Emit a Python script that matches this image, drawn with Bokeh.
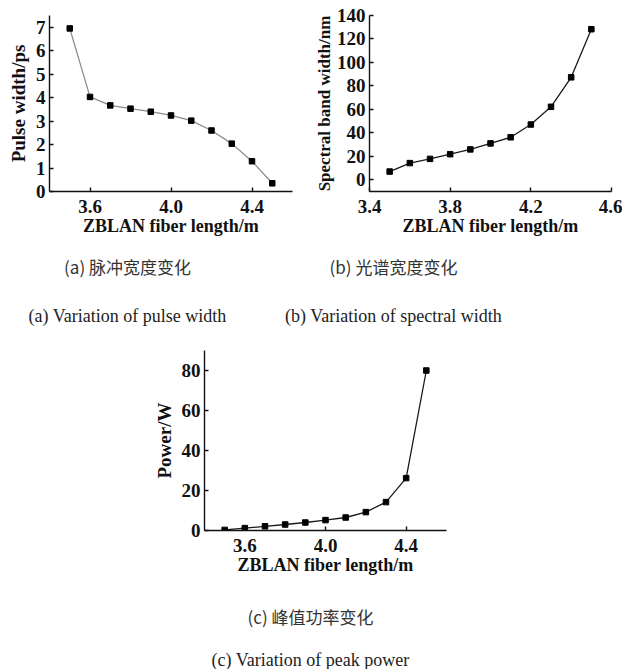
from bokeh.plotting import figure
from bokeh.models import Range1d, FixedTicker, Title, Spacer, PrintfTickFormatter
from bokeh.layouts import column, row
from bokeh.embed import file_html
from bokeh.resources import INLINE

# ---- data ----
fiber_length = [3.5, 3.6, 3.7, 3.8, 3.9, 4.0, 4.1, 4.2, 4.3, 4.4, 4.5]
pulse_width = [6.95, 4.03, 3.67, 3.53, 3.40, 3.24, 3.02, 2.60, 2.04, 1.29, 0.35]
spectral_width = [7.0, 14.2, 17.8, 21.8, 25.9, 31.0, 36.2, 47.1, 62.2, 87.3, 128.3]
peak_power = [0.3, 1.2, 2.1, 3.0, 4.0, 5.2, 6.5, 9.2, 14.2, 26.2, 80.0]

ticks_a_x = [3.6, 4.0, 4.4]
ticks_a_y = [0, 1, 2, 3, 4, 5, 6, 7]
ticks_b_x = [3.4, 3.8, 4.2, 4.6]
ticks_b_y = [0, 20, 40, 60, 80, 100, 120, 140]
ticks_c_x = [3.6, 4.0, 4.4]
ticks_c_y = [0, 20, 40, 60, 80]

xlabel = "ZBLAN fiber length/m"
ylabel_a = "Pulse width/ps"
ylabel_b = "Spectral band width/nm"
ylabel_c = "Power/W"
cap_a = ["(a) 脉冲宽度变化", "(a) Variation of pulse width"]
cap_b = ["(b) 光谱宽度变化", "(b) Variation of spectral width"]
cap_c = ["(c) 峰值功率变化", "(c) Variation of peak power"]

SERIF = "Liberation Serif"
CJK = "Noto Sans CJK SC"
INK = "#111111"


def make_fig(x, y, xr, yr, xt, yt, ylab, ylab_size, ylab_standoff, line_color,
             width, height, bl, br, bt, bb):
    p = figure(width=width, height=height, x_range=Range1d(*xr), y_range=Range1d(*yr),
               output_backend="svg", toolbar_location=None,
               min_border_left=bl, min_border_right=br, min_border_top=bt,
               min_border_bottom=bb)
    p.outline_line_color = None
    p.grid.visible = False
    for ax in (p.xaxis[0], p.yaxis[0]):
        ax.major_tick_in = 4
        ax.major_tick_out = 0
        ax.minor_tick_in = 0
        ax.minor_tick_out = 0
        ax.axis_line_color = INK
        ax.axis_line_width = 1.4
        ax.major_tick_line_color = INK
        ax.major_tick_line_width = 1.4
        ax.major_label_text_font = SERIF
        ax.major_label_text_font_size = "19px"
        ax.major_label_text_font_style = "bold"
        ax.major_label_text_color = INK
        ax.axis_label_text_font = SERIF
        ax.axis_label_text_font_style = "bold"
        ax.axis_label_text_color = INK
    p.xaxis.axis_label_text_font_size = "18px"
    p.yaxis.axis_label_text_font_size = ylab_size
    p.xaxis.ticker = FixedTicker(ticks=xt)
    p.yaxis.ticker = FixedTicker(ticks=yt)
    p.xaxis.formatter = PrintfTickFormatter(format="%.1f")
    p.xaxis.axis_label = xlabel
    p.yaxis.axis_label = ylab
    p.xaxis.major_label_standoff = 8
    p.xaxis.axis_label_standoff = 0
    p.yaxis.major_label_standoff = 4
    p.yaxis.axis_label_standoff = ylab_standoff
    p.line(x, y, line_color=line_color, line_width=1.3)
    p.scatter(x, y, marker="square", size=5.5, fill_color="black", line_color="black")
    return p


def caption_fig(texts, width, height, top, bottom):
    c = figure(width=width, height=height, x_axis_type=None, y_axis_type=None,
               output_backend="svg", toolbar_location=None,
               min_border_left=0, min_border_right=0,
               min_border_top=top, min_border_bottom=bottom)
    c.outline_line_color = None
    c.grid.visible = False
    t1 = Title(text=texts[0], align="center", text_font=CJK, text_font_size="17px",
               text_font_style="normal", text_color="#333333", standoff=0)
    t2 = Title(text=texts[1], align="center", text_font=SERIF, text_font_size="18px",
               text_font_style="normal", text_color="#222222", standoff=0)
    c.add_layout(t1, "above")
    c.add_layout(t2, "below")
    return c


pa = make_fig(fiber_length, pulse_width, (3.4, 4.6), (0, 7.5), ticks_a_x, ticks_a_y,
              ylabel_a, "19px", 4, "#8c8c8c", 310, 242, 49, 18, 13, 51)
pb = make_fig(fiber_length, spectral_width, (3.4, 4.6), (-10, 140), ticks_b_x, ticks_b_y,
              ylabel_b, "17px", 0, "#1a1a1a", 312, 242, 59, 11, 15, 47)
pc = make_fig(fiber_length, peak_power, (3.4, 4.6), (0, 90), ticks_c_x, ticks_c_y,
              ylabel_c, "19px", 4, "#1a1a1a", 330, 241, 54, 34, 10, 51)

ca = caption_fig(cap_a, 254, 98, 36, 37)
cb = caption_fig(cap_b, 278, 98, 36, 37)
cc = caption_fig(cap_c, 320, 88, 47, 20)

layout = column(
    row(pa, pb),
    row(ca, cb),
    row(Spacer(width=150), pc),
    row(Spacer(width=150), cc),
)

open("out.html", "w").write(file_html(layout, INLINE))
